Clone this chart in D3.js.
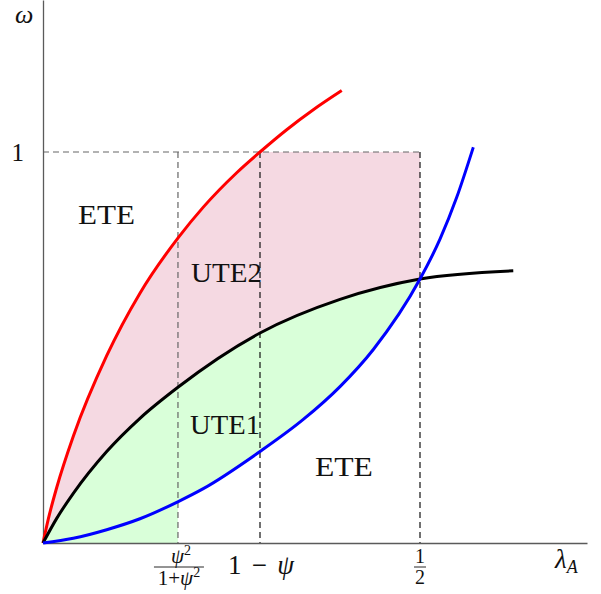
<!DOCTYPE html>
<html>
<head>
<meta charset="utf-8">
<script src="https://cdn.jsdelivr.net/npm/d3@7"></script>
<style>
  html, body { margin: 0; padding: 0; background: #fff; }
  svg { display: block; }
  text { font-family: "Liberation Serif", "DejaVu Serif", serif; fill: #111; }
  .math { font-style: italic; }
</style>
</head>
<body>
<svg id="chart" width="601" height="594"></svg>
<script>
// Upper boundary (red), middle boundary (black) and lower boundary (blue): [lambda_A, omega]
const redCurve = [
  [0, 0], [0.0070, 0.061], [0.0182, 0.142], [0.0402, 0.273], [0.0845, 0.479],
  [0.1286, 0.639], [0.1794, 0.781], [0.2126, 0.859], [0.2569, 0.947],
  [0.2878, 1.000], [0.3232, 1.057], [0.3585, 1.108], [0.3962, 1.157]
];
const blackCurve = [
  [0, 0], [0.0182, 0.063], [0.0402, 0.127], [0.0845, 0.234], [0.1286, 0.319],
  [0.1794, 0.399], [0.2878, 0.537], [0.3939, 0.623], [0.5000, 0.675], [0.6237, 0.696]
];
const blueCurve = [
  [0, 0], [0.0402, 0.012], [0.0845, 0.034], [0.1286, 0.062], [0.1794, 0.106],
  [0.2126, 0.139], [0.2878, 0.234], [0.3452, 0.316], [0.3939, 0.400],
  [0.4381, 0.495], [0.5000, 0.675], [0.5265, 0.777], [0.5487, 0.884], [0.5707, 1.012]
];

// Threshold values on the lambda_A axis: psi^2/(1+psi^2), 1-psi, 1/2
const xTickValues = [0.179, 0.2878, 0.5];
const yTickValues = [1];
const yTickLabels = ["1"];

// Region names and their anchor points (data units, baseline-left)
const regionNames = ["ETE", "UTE2", "UTE1", "ETE"];
const regionAnchors = [[0.0464, 0.816], [0.1963, 0.6675], [0.1950, 0.2788], [0.3607, 0.1714]];
const regionWidths = [57, 71, 70, 58];

const svg = d3.select("#chart");

const x = d3.scaleLinear().domain([0, 0.5]).range([43, 420]);
const y = d3.scaleLinear().domain([0, 1]).range([543, 152]);
const xEnd = x.invert(587);
const yTop = y.invert(0);

const line = d3.line().x(d => x(d[0])).y(d => y(d[1])).curve(d3.curveMonotoneX);

const defs = svg.append("defs");

// Clip: the unit box left of lambda_A = 1/2
defs.append("clipPath").attr("id", "box")
  .append("rect")
  .attr("x", x(0)).attr("y", y(1))
  .attr("width", x(0.5) - x(0)).attr("height", y(0) - y(1));

// Clip: everything above the black curve
const blackEnd = blackCurve[blackCurve.length - 1];
defs.append("clipPath").attr("id", "aboveBlack")
  .append("path")
  .attr("d", line(blackCurve) + `L${x(blackEnd[0] + 0.2)},${y(blackEnd[1])}L${x(blackEnd[0] + 0.2)},${y(yTop + 1)}L${x(-0.1)},${y(yTop + 1)}L${x(-0.1)},${y(0)}Z`);

// Clip: above the blue curve, plus the strip left of psi^2/(1+psi^2)
const blueEnd = blueCurve[blueCurve.length - 1];
const greenClip = defs.append("clipPath").attr("id", "greenZone");
greenClip.append("path")
  .attr("d", line(blueCurve) + `L${x(blueEnd[0])},${y(yTop + 1)}L${x(-0.1)},${y(yTop + 1)}L${x(-0.1)},${y(0)}Z`);
greenClip.append("rect")
  .attr("x", x(-0.1)).attr("y", y(yTop))
  .attr("width", x(xTickValues[0]) - x(-0.1)).attr("height", y(-0.1) - y(yTop));

// Pink band: between red and black
const redEnd = redCurve[redCurve.length - 1];
svg.append("g").attr("clip-path", "url(#box)")
  .append("path")
  .attr("clip-path", "url(#aboveBlack)")
  .attr("d", line(redCurve) + `L${x(0.7)},${y(redEnd[1])}L${x(0.7)},${y(-0.1)}L${x(0)},${y(-0.1)}Z`)
  .attr("fill", "#f5d9e2");

// Green band: below black, above blue (or down to the axis on the left strip)
svg.append("g").attr("clip-path", "url(#box)")
  .append("path")
  .attr("clip-path", "url(#greenZone)")
  .attr("d", line(blackCurve) + `L${x(blackEnd[0])},${y(-0.1)}L${x(0)},${y(-0.1)}Z`)
  .attr("fill", "#d9ffd9");

// Dashed guides
const dash = "6,4";
svg.append("line")
  .attr("x1", x(0)).attr("x2", x(0.5)).attr("y1", y(1)).attr("y2", y(1))
  .attr("stroke", "#666").attr("stroke-width", 1.2).attr("stroke-dasharray", dash);
svg.selectAll("line.guide").data(xTickValues).join("line")
  .attr("class", "guide")
  .attr("x1", d => x(d)).attr("x2", d => x(d))
  .attr("y1", y(1)).attr("y2", y(0))
  .attr("stroke", (d, i) => i === 0 ? "#666" : "#111")
  .attr("stroke-width", 1.2).attr("stroke-dasharray", dash);

// Axes
const xAxisScale = d3.scaleLinear().domain([0, xEnd]).range([x(0), x(xEnd)]);
const yAxisScale = d3.scaleLinear().domain([0, yTop]).range([y(0), y(yTop)]);
const gx = svg.append("g").attr("transform", `translate(0,${y(0)})`)
  .call(d3.axisBottom(xAxisScale).tickValues([]).tickSizeOuter(0));
const gy = svg.append("g").attr("transform", `translate(${x(0)},0)`)
  .call(d3.axisLeft(yAxisScale).tickValues(yTickValues).tickSize(0).tickPadding(19)
    .tickFormat((d, i) => yTickLabels[i]).tickSizeOuter(0));
[gx, gy].forEach(g => g.select(".domain").attr("stroke", "#5a5a5a").attr("stroke-width", 1.3));
gy.selectAll(".tick text")
  .attr("font-family", "Liberation Serif").attr("font-size", 25).attr("fill", "#111")
  .attr("dy", "0.33em");

// Curves
svg.append("path").attr("d", line(redCurve)).attr("fill", "none")
  .attr("stroke", "#ff0000").attr("stroke-width", 3);
svg.append("path").attr("d", line(blackCurve)).attr("fill", "none")
  .attr("stroke", "#000").attr("stroke-width", 3);
svg.append("path").attr("d", line(blueCurve)).attr("fill", "none")
  .attr("stroke", "#0000ff").attr("stroke-width", 3);

// Region labels
svg.selectAll("text.region").data(regionNames).join("text")
  .attr("class", "region")
  .attr("x", (d, i) => x(regionAnchors[i][0]))
  .attr("y", (d, i) => y(regionAnchors[i][1]))
  .attr("font-size", 27)
  .attr("textLength", (d, i) => regionWidths[i])
  .attr("lengthAdjust", "spacingAndGlyphs")
  .text(d => d);

// Tick labels on lambda_A axis
const base = y(0);
// psi^2 / (1 + psi^2)
const fx = x(xTickValues[0]);
const num = svg.append("text").attr("x", fx + 3).attr("y", base + 20).attr("text-anchor", "middle").attr("font-size", 21);
num.append("tspan").attr("class", "math").text("ψ");
num.append("tspan").attr("font-size", 14).attr("dy", -8).text("2");
svg.append("line").attr("x1", fx - 24).attr("x2", fx + 26).attr("y1", base + 24).attr("y2", base + 24)
  .attr("stroke", "#111").attr("stroke-width", 0.9);
const den = svg.append("text").attr("x", fx + 1).attr("y", base + 42).attr("text-anchor", "middle")
  .attr("font-size", 21);
den.append("tspan").text("1+");
den.append("tspan").attr("class", "math").text("ψ");
den.append("tspan").attr("font-size", 14).attr("dy", -8).text("2");

// 1 - psi
const mx = svg.append("text").attr("x", 228).attr("y", base + 31)
  .attr("font-size", 27).attr("textLength", 66).attr("lengthAdjust", "spacing");
mx.append("tspan").text("1 − ");
mx.append("tspan").attr("class", "math").text("ψ");

// 1/2
const hx = x(xTickValues[2]);
svg.append("text").attr("x", hx).attr("y", base + 20).attr("text-anchor", "middle").attr("font-size", 20).text("1");
svg.append("line").attr("x1", hx - 6).attr("x2", hx + 6).attr("y1", base + 24).attr("y2", base + 24)
  .attr("stroke", "#111").attr("stroke-width", 0.9);
svg.append("text").attr("x", hx).attr("y", base + 41).attr("text-anchor", "middle").attr("font-size", 20).text("2");

// Axis titles
const lam = svg.append("text").attr("x", 555).attr("y", base + 25).attr("font-size", 27);
lam.append("tspan").attr("class", "math").text("λ");
lam.append("tspan").attr("class", "math").attr("font-size", 18).attr("dy", 5).text("A");
svg.append("text").attr("class", "math").attr("x", 15).attr("y", 23).attr("font-size", 26).text("ω");
</script>
</body>
</html>
